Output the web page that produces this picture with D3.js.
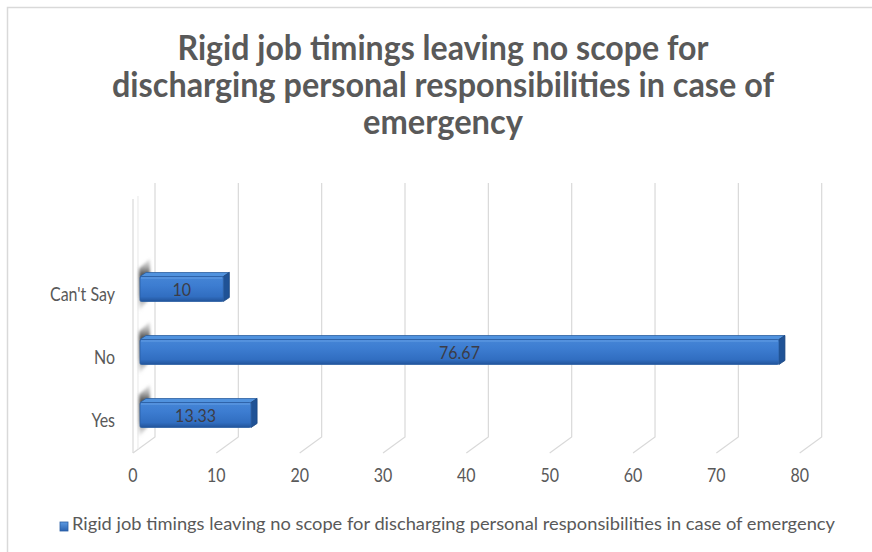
<!DOCTYPE html>
<html>
<head>
<meta charset="utf-8">
<script src="https://cdn.jsdelivr.net/npm/d3@7"></script>
<style>
  html, body { margin: 0; padding: 0; background: #ffffff; }
  svg { display: block; }
  text { font-family: Lato, "Open Sans", sans-serif; }
</style>
</head>
<body>
<svg id="chart" width="872" height="552"></svg>
<script>
// ---- data ----
const titleLines = [
  "Rigid job timings leaving no scope for",
  "discharging personal responsibilities in case of",
  "emergency"
];
const categories = ["Can't Say", "No", "Yes"];
const values = [10, 76.67, 13.33];
const valueLabels = ["10", "76.67", "13.33"];
const xTicks = [0, 10, 20, 30, 40, 50, 60, 70, 80];
const seriesName = "Rigid job timings leaving no scope for discharging personal responsibilities in case of emergency";

// ---- layout ----
const W = 872, H = 552;
const svg = d3.select("#chart");
const textGray = "#595959";

// 3D floor: back plane and front edge of the plot, depth offset
const depth = { dx: -22, dy: 16 };
const plotTop = 183, plotBottom = 437;
const xBack = d3.scaleLinear().domain([0, 80]).range([155, 821.7]);
const xFront = d3.scaleLinear().domain([0, 80]).range([xBack(0) + depth.dx, xBack(80) + depth.dx]);
// bars sit at mid depth
const xBar = d3.scaleLinear().domain([0, 80]).range([140, 140 + (xBack(80) - xBack(0))]);
const y = d3.scaleBand().domain(categories).range([255.5, 444.5]).paddingInner(0.54).paddingOuter(0.27);

const defs = svg.append("defs");
const gFront = defs.append("linearGradient").attr("id", "barFront").attr("x1", 0).attr("y1", 0).attr("x2", 0).attr("y2", 1);
gFront.append("stop").attr("offset", "0%").attr("stop-color", "#4585d6");
gFront.append("stop").attr("offset", "35%").attr("stop-color", "#3d7dd1");
gFront.append("stop").attr("offset", "80%").attr("stop-color", "#316ec1");
gFront.append("stop").attr("offset", "100%").attr("stop-color", "#22549a");
const gShadow = defs.append("linearGradient").attr("id", "wallShadow").attr("x1", 0).attr("y1", 0).attr("x2", 0).attr("y2", 1);
gShadow.append("stop").attr("offset", "0%").attr("stop-color", "#bdbdbd").attr("stop-opacity", 0.3);
gShadow.append("stop").attr("offset", "30%").attr("stop-color", "#505050").attr("stop-opacity", 1);
gShadow.append("stop").attr("offset", "70%").attr("stop-color", "#707070").attr("stop-opacity", 0.9);
gShadow.append("stop").attr("offset", "100%").attr("stop-color", "#d0d0d0").attr("stop-opacity", 0.2);
defs.append("filter").attr("id", "soft").attr("x", "-50%").attr("y", "-50%").attr("width", "200%").attr("height", "200%")
  .append("feGaussianBlur").attr("stdDeviation", 1.4);
const gLeg = defs.append("linearGradient").attr("id", "legSq").attr("x1", 0).attr("y1", 0).attr("x2", 0).attr("y2", 1);
gLeg.append("stop").attr("offset", "0%").attr("stop-color", "#5c9ae2");
gLeg.append("stop").attr("offset", "100%").attr("stop-color", "#2a62b0");

// chart area border
svg.append("rect").attr("x", 7.5).attr("y", 7.5).attr("width", 900).attr("height", 600)
  .attr("fill", "none").attr("stroke", "#d9d9d9").attr("stroke-width", 1.5);

// helper: text drawn slightly stretched vertically
function stretchedText(g, x, yb, str, size, sy, opts = {}) {
  const t = g.append("text")
    .attr("transform", `translate(${x},${yb}) scale(1,${sy})`)
    .attr("font-size", size)
    .attr("fill", opts.fill || textGray)
    .attr("font-weight", opts.weight || "normal")
    .attr("text-anchor", opts.anchor || "middle")
    .text(str);
  if (opts.length) t.attr("textLength", opts.length).attr("lengthAdjust", "spacingAndGlyphs");
  return t;
}

// ---- title ----
const titleG = svg.append("g");
const titleBaselines = [60, 97, 134];
const titleWidths = [531, 662, 160];
titleLines.forEach((line, i) => {
  stretchedText(titleG, 443, titleBaselines[i], line, 29, 1.18,
    { weight: "bold", length: titleWidths[i] });
});

// ---- gridlines (back wall + floor diagonal) ----
const grid = svg.append("g").attr("stroke", "#d9d9d9").attr("stroke-width", 1.2).attr("fill", "none");
xTicks.forEach(t => {
  const xb = xBack(t), xf = xFront(t);
  grid.append("path").attr("d", `M${xb},${plotTop} L${xb},${plotBottom} L${xf},${plotBottom + depth.dy}`);
});
// left side wall front edge
grid.append("path").attr("d", `M${xFront(0)},${plotTop + depth.dy} L${xFront(0)},${plotBottom + depth.dy}`);
grid.append("path").attr("stroke", "#ececec")
  .attr("d", `M${xFront(0) + 5},${plotTop + depth.dy - 3} L${xFront(0) + 5},${plotBottom + depth.dy - 4}`);

// ---- bar shadows on the side wall ----
const shadowG = svg.append("g").attr("filter", "url(#soft)");
categories.forEach(c => {
  const top = y(c), bot = y(c) + y.bandwidth();
  const x0 = xBar(0);
  shadowG.append("path")
    .attr("d", `M${x0 - 1},${top - 4} L${x0 + 10},${top - 14} L${x0 + 10},${bot - 4} L${x0 - 1},${bot + 10} Z`)
    .attr("fill", "url(#wallShadow)");
});

// ---- 3D bars ----
const barG = svg.append("g");
const bd = { dx: 6, dy: -4 };
categories.forEach((c, i) => {
  const v = values[i];
  const x0 = xBar(0), x1 = xBar(v);
  const top = y(c) - bd.dy, bot = y(c) + y.bandwidth();
  const g = barG.append("g").attr("stroke-linejoin", "round");
  // top face
  g.append("path")
    .attr("d", `M${x0},${top} L${x0 + bd.dx},${top + bd.dy} L${x1 + bd.dx},${top + bd.dy} L${x1},${top} Z`)
    .attr("fill", "#5092de").attr("stroke", "#2c5f9f").attr("stroke-width", 0.8);
  // end face
  g.append("path")
    .attr("d", `M${x1},${top} L${x1 + bd.dx},${top + bd.dy} L${x1 + bd.dx},${bot + bd.dy} L${x1},${bot} Z`)
    .attr("fill", "#1f5296").attr("stroke", "#1b4680").attr("stroke-width", 0.8);
  // front face
  g.append("rect")
    .attr("x", x0).attr("y", top).attr("width", x1 - x0).attr("height", bot - top)
    .attr("rx", 1.5)
    .attr("fill", "url(#barFront)").attr("stroke", "#2a5ea3").attr("stroke-width", 0.8);
  // soft highlight line on upper edge
  g.append("line").attr("x1", x0 + 1).attr("x2", x1 - 1).attr("y1", top + 1.5).attr("y2", top + 1.5)
    .attr("stroke", "#72abec").attr("stroke-width", 1).attr("opacity", 0.7);
  // data label
  stretchedText(barG, (x0 + x1) / 2, y(c) + y.bandwidth() / 2 + 9, valueLabels[i], 16, 1.12,
    { fill: "#3c3c46" });
});

// ---- category labels ----
const catG = svg.append("g");
categories.forEach(c => {
  stretchedText(catG, 115, y(c) + y.bandwidth() / 2 + 14, c, 16, 1.2, { anchor: "end" });
});

// ---- x tick labels ----
const tickG = svg.append("g");
xTicks.forEach(t => {
  stretchedText(tickG, xFront(t), 482, d3.format("d")(t), 16, 1.2);
});

// ---- legend ----
const legG = svg.append("g");
legG.append("rect").attr("x", 60).attr("y", 522).attr("width", 8).attr("height", 9)
  .attr("fill", "url(#legSq)").attr("stroke", "#2a5ea3").attr("stroke-width", 0.8);
stretchedText(legG, 72, 529.5, seriesName, 15, 1.1, { anchor: "start", length: 763 });
</script>
</body>
</html>
